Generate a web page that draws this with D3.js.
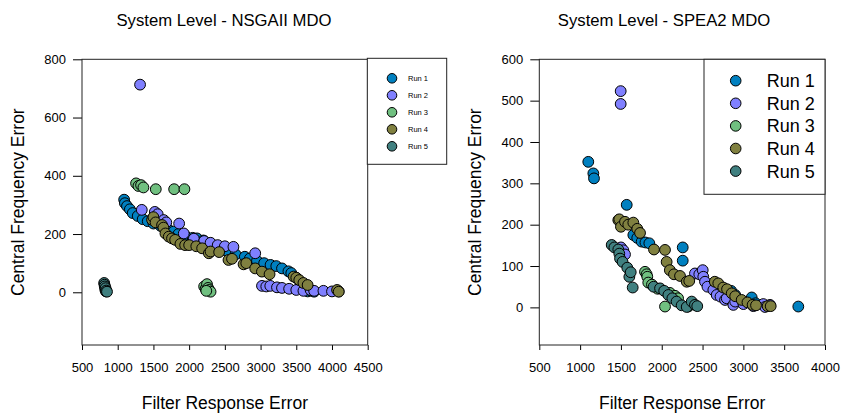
<!DOCTYPE html>
<html><head><meta charset="utf-8">
<script src="https://cdnjs.cloudflare.com/ajax/libs/d3/7.8.5/d3.min.js"></script>
<style>body{margin:0;background:#fff}svg{display:block}text{font-family:Arial,"Liberation Sans",sans-serif;fill:#000}</style>
</head><body><svg id="c" width="843" height="417"></svg>
<script>
const runNames = ["Run 1","Run 2","Run 3","Run 4","Run 5"];
const runColors = ["#0080c0","#8080ff","#70c080","#808040","#408080"];

// NSGAII panel
const nsgaTitle = "System Level - NSGAII MDO";
const nsgaXTicks = [500,1000,1500,2000,2500,3000,3500,4000,4500];
const nsgaYTicks = [0,200,400,600,800];
const nsgaRun1X = [1090,1100,1130,1170,1210,1280,1350,1420,1500,1600,1700,1780,1850,1950,2050,2110,2200,2300,2400,2480,2550,2650,2780,2850,2950,3050,3140,3220,3300,3390,3430,3500,3560,3600,3630,3660,3700,3750];
const nsgaRun1Y = [318,306,296,285,272,262,251,244,236,228,218,208,200,193,187,185,178,168,156,145,138,130,122,116,108,100,94,90,82,72,66,50,35,20,8,3,6,2];
const nsgaRun2X = [1313,1337,1520,1560,1645,1680,1860,1925,2066,2210,2300,2400,2500,2620,2925,3020,3080,3136,3230,3300,3400,3500,3600,3700,3750,3880,4000,4094];
const nsgaRun2Y = [713,283,276,268,248,240,236,202,184,176,170,162,158,156,134,22,20,22,17,15,12,8,5,8,5,5,3,3];
const nsgaRun3X = [1257,1290,1327,1360,1533,1790,1934,2210,2230,2250,2265,2280,2300,2240];
const nsgaRun3Y = [374,365,368,360,354,354,354,20,12,28,15,8,2,5];
const nsgaRun4X = [1481,1500,1530,1621,1640,1668,1715,1760,1804,1878,1944,2000,2100,2182,2276,2300,2420,2551,2600,2762,2800,2925,3019,3126,3463,3500,3542,3600,3659,4071,4094];
const nsgaRun4Y = [249,258,240,231,222,202,191,185,180,166,162,162,158,151,134,140,138,111,115,96,100,82,71,62,54,50,42,32,25,8,2];
const nsgaRun5X = [810,815,820,825,830,835,840,850];
const nsgaRun5Y = [32,26,20,10,14,3,6,2];

// SPEA2 panel
const speaTitle = "System Level - SPEA2 MDO";
const speaXTicks = [500,1000,1500,2000,2500,3000,3500,4000];
const speaYTicks = [0,100,200,300,400,500,600];
const speaRun1X = [1100,1162,1170,1571,1652,1700,1754,1800,1848,2257,2257,2850,2900,3102,3150,3673];
const speaRun1Y = [352,324,312,248,175,168,159,157,155,145,113,40,30,24,10,2];
const speaRun2X = [1497,1497,1500,1530,1550,2407,2460,2502,2509,2530,2560,2632,2673,2720,2775,2796,2877,2900,3000,3122,3244,3265,3326];
const speaRun2Y = [523,492,145,138,128,82,80,90,74,62,50,42,30,26,18,22,6,14,8,3,8,1,6];
const speaRun3X = [1795,1815,1823,1835,1880,1950,2040,2100,2162,2200,2325];
const speaRun3Y = [86,80,74,60,55,45,2,35,28,22,2];
const speaRun4X = [1468,1480,1500,1550,1590,1652,1700,1734,1905,2040,2060,2099,2150,2224,2306,2337,2650,2693,2754,2800,2857,2900,2979,3050,3113,3155,3297,3335];
const speaRun4Y = [211,213,195,207,200,205,190,180,140,139,110,90,80,76,62,64,62,58,48,44,34,27,18,12,6,5,3,3];
const speaRun5X = [1387,1420,1468,1480,1489,1520,1578,1603,1620,1644,1900,1979,2030,2081,2130,2182,2244,2306,2367,2407,2435];
const speaRun5Y = [151,145,140,130,118,110,96,74,85,48,50,46,40,30,22,14,5,1,14,6,3];

const xLabel = "Filter Response Error";
const yLabel = "Central Frequency Error";

const svg = d3.select("#c");

function panel(cfg){
  const g = svg.append("g");
  const x = d3.scaleLinear().domain(cfg.xDomain).range([cfg.left, cfg.right]);
  const y = d3.scaleLinear().domain(cfg.yDomain).range([cfg.bottom, cfg.top]);
  const ax = g.append("g").attr("transform",`translate(0,${cfg.bottom})`)
    .call(d3.axisBottom(x).tickValues(cfg.xTicks).tickSize(5).tickPadding(13).tickFormat(d3.format("d")));
  const ay = g.append("g").attr("transform",`translate(${cfg.left},0)`)
    .call(d3.axisLeft(y).tickValues(cfg.yTicks).tickSize(9).tickPadding(7).tickFormat(d3.format("d")));
  [ax,ay].forEach(a=>{a.select(".domain").remove();a.selectAll("text").attr("font-size",13).attr("font-family","Arial, 'Liberation Sans', sans-serif");a.selectAll("line").attr("stroke","#000");});
  g.append("rect").attr("x",cfg.left).attr("y",cfg.top).attr("width",cfg.right-cfg.left).attr("height",cfg.bottom-cfg.top)
    .attr("fill","none").attr("stroke","#222").attr("stroke-width",1);
  cfg.series.forEach((s,i)=>{
    g.append("g").selectAll("circle").data(d3.zip(s[0],s[1])).join("circle")
      .attr("cx",d=>x(d[0])).attr("cy",d=>y(d[1])).attr("r",5.4)
      .attr("fill",runColors[i]).attr("stroke","#000").attr("stroke-width",1);
  });
  g.append("text").attr("x",cfg.titleX).attr("y",26).attr("text-anchor","middle").attr("font-size",16.7).text(cfg.title);
  g.append("text").attr("x",(cfg.left+cfg.right)/2).attr("y",409).attr("text-anchor","middle").attr("font-size",17.5).text(xLabel);
  g.append("text").attr("transform",`translate(${cfg.yLabelX},${(cfg.top+cfg.bottom)/2}) rotate(-90)`).attr("text-anchor","middle").attr("font-size",17.5).text(yLabel);
  const L = cfg.legend;
  g.append("rect").attr("x",L.x).attr("y",L.y).attr("width",L.w).attr("height",L.h).attr("fill","#fff").attr("stroke","#222");
  runNames.forEach((n,i)=>{
    g.append("circle").attr("cx",L.cx).attr("cy",L.cy0+L.dy*i).attr("r",L.r).attr("fill",runColors[i]).attr("stroke","#000");
    g.append("text").attr("x",L.tx).attr("y",L.cy0+L.dy*i).attr("dy","0.36em").attr("font-size",L.fs).text(n);
  });
}

panel({left:82,right:367.7,top:59.3,bottom:345,xDomain:[500,4500],yDomain:[-181,800],
  xTicks:nsgaXTicks,yTicks:nsgaYTicks,title:nsgaTitle,titleX:224,yLabelX:24,
  series:[[nsgaRun1X,nsgaRun1Y],[nsgaRun2X,nsgaRun2Y],[nsgaRun3X,nsgaRun3Y],[nsgaRun4X,nsgaRun4Y],[nsgaRun5X,nsgaRun5Y]],
  legend:{x:367.3,y:58.3,w:79.4,h:106,cx:392,cy0:78.3,dy:17,r:4.8,tx:408,fs:7.5}});
panel({left:539.3,right:825,top:59.3,bottom:345,xDomain:[500,4000],yDomain:[-91,600],
  xTicks:speaXTicks,yTicks:speaYTicks,title:speaTitle,titleX:664,yLabelX:481,
  series:[[speaRun1X,speaRun1Y],[speaRun2X,speaRun2Y],[speaRun3X,speaRun3Y],[speaRun4X,speaRun4Y],[speaRun5X,speaRun5Y]],
  legend:{x:704,y:59.3,w:121,h:135,cx:735.7,cy0:80.7,dy:22.6,r:5.3,tx:766.7,fs:18}});
</script></body></html>
